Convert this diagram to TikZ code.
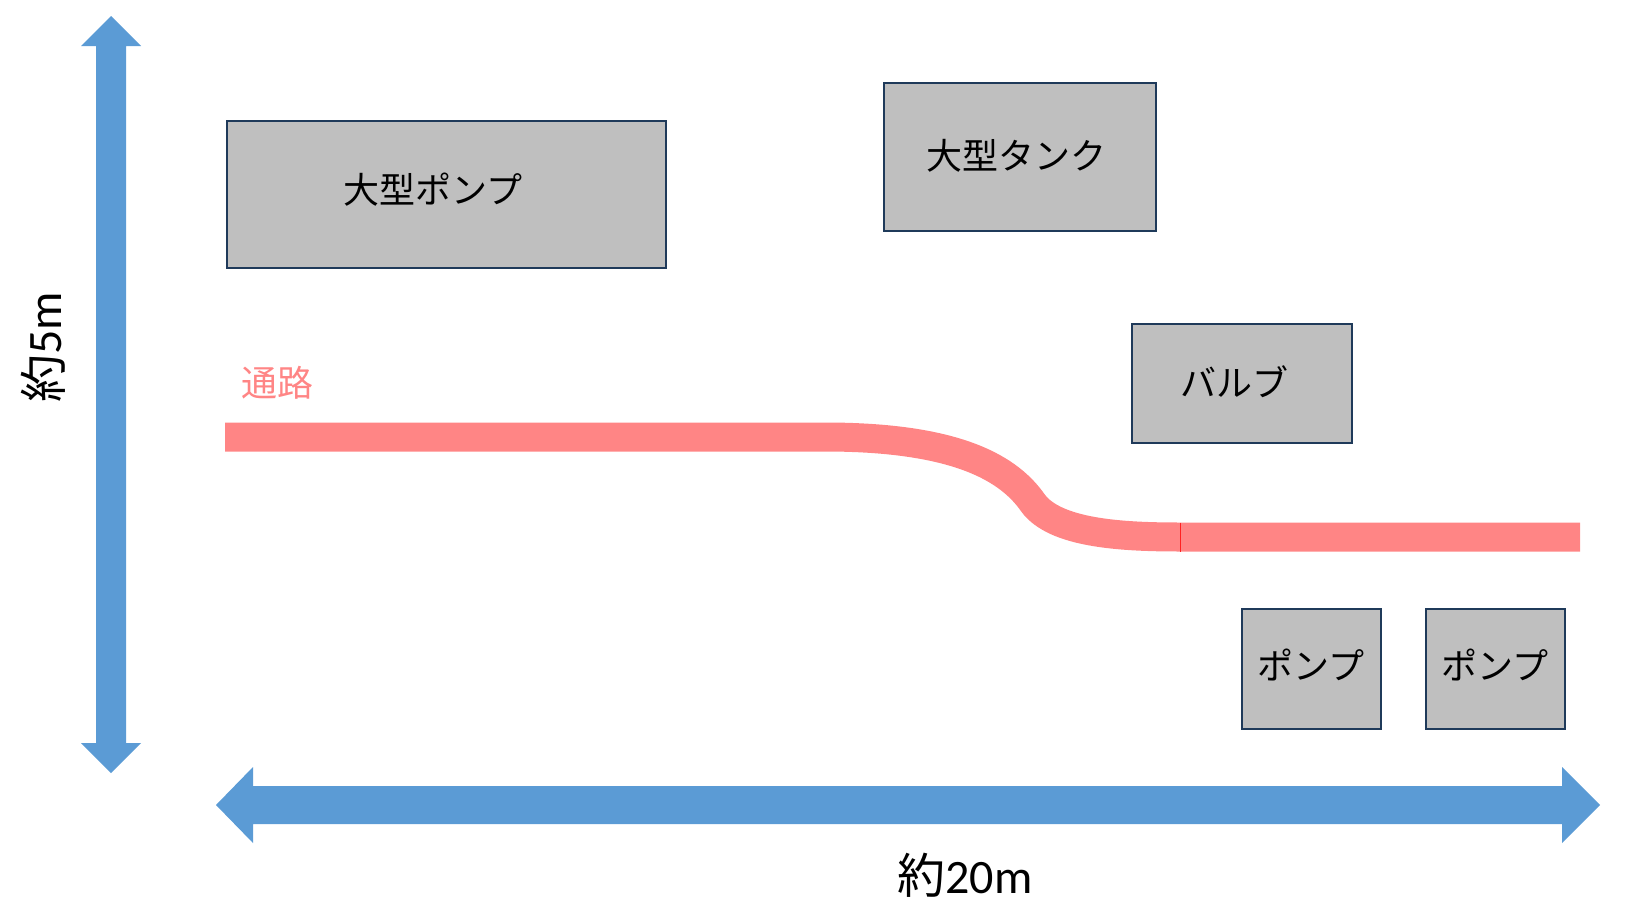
\documentclass[tikz,border=0pt]{standalone}
\usepackage{fontspec}
\setmainfont{Carlito}
\newfontfamily\cjk{Noto Sans CJK JP}
\definecolor{arrblue}{HTML}{5B9BD5}
\definecolor{pathpink}{HTML}{FF8585}
\definecolor{boxfill}{HTML}{BFBFBF}
\definecolor{boxline}{HTML}{1F3A5A}
\tikzset{
  equip/.style={draw=boxline, line width=2pt, fill=boxfill, anchor=north west, inner sep=0pt},
  equiptext/.style={font=\cjk\fontsize{36}{42}\selectfont, inner sep=0pt, text=black},
  dimtext/.style={font=\fontsize{48}{54}\selectfont, inner sep=0pt, text=black},
}
\begin{document}
\begin{tikzpicture}[x=1pt,y=-1pt]
\path[use as bounding box] (0,0) rectangle (1644,913);
% vertical dimension arrow
\fill[arrblue] (111,16) -- (141,46) -- (126,46) -- (126,743) -- (141,743) -- (111,773)
  -- (81,743) -- (96,743) -- (96,46) -- (81,46) -- cycle;
% horizontal dimension arrow
\fill[arrblue] (216,805) -- (253,767) -- (253,786) -- (1562,786) -- (1562,767) -- (1600,805)
  -- (1562,843) -- (1562,824) -- (253,824) -- (253,843) -- cycle;
% labels
\node[dimtext, rotate=90] (h) at (43,347) {{\cjk 約}5m};
\node[dimtext] (w) at (965,875) {{\cjk 約}20m};
% passage
\coordinate (p0) at (225,437);
\coordinate (p1) at (825,437);
\coordinate (p2) at (1033,503);
\coordinate (p3) at (1180,537);
\coordinate (p4) at (1580,537);
\draw[pathpink, line width=29pt] (p0) -- (p1) .. controls (960,437) and (1010,470) .. (p2)
  .. controls (1055,533) and (1120,537) .. (p3) -- (p4);
\draw[red!75!pathpink, line width=1pt] (1180,522.5) -- (1180,551.5);
\node[equiptext, text=pathpink] (lbl) at (277,383) {通路};
% equipment boxes
\node[equip, minimum width=439pt, minimum height=147pt] (bigpump) at (226,120) {};
\node[equiptext] at (433,190) {大型ポンプ};
\node[equip, minimum width=272pt, minimum height=148pt] (tank) at (883,82) {};
\node[equiptext] at (1016,156) {大型タンク};
\node[equip, minimum width=220pt, minimum height=119pt] (valve) at (1131,323) {};
\node[equiptext] at (1234,382) {バルブ};
\node[equip, minimum width=139pt, minimum height=120pt] (pump1) at (1241,608) {};
\node[equiptext] at (1311,665) {ポンプ};
\node[equip, minimum width=139pt, minimum height=120pt] (pump2) at (1425,608) {};
\node[equiptext] at (1495,665) {ポンプ};
\end{tikzpicture}
\end{document}
